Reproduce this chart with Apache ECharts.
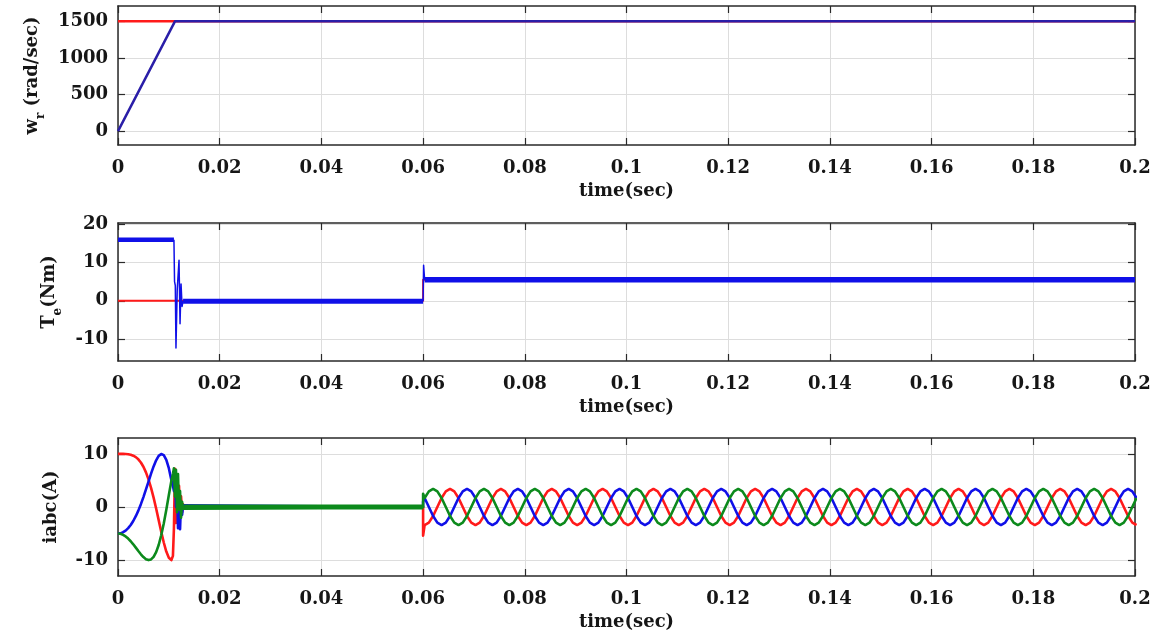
<!DOCTYPE html>
<html>
<head>
<meta charset="utf-8">
<script src="https://cdn.jsdelivr.net/npm/echarts@6/dist/echarts.min.js"></script>
<style>
  html, body { margin: 0; padding: 0; background: #ffffff; }
  #chart { width: 1164px; height: 638px; }
</style>
</head>
<body>
<div id="chart"></div>
<script>
// ---------- tick values ----------
const speedTicks = [0, 500, 1000, 1500];
const torqueTicks = [-10, 0, 10, 20];
const currentTicks = [-10, 0, 10];

// ---------- rotor speed (rad/sec) ----------
const speedRefT = [0, 0.2];
const speedRefVals = [1500, 1500];
const speedT = [0, 0.0112, 0.2];
const speedVals = [0, 1500, 1500];

// ---------- electromagnetic torque (Nm) ----------
const teRefT = [0, 0.06, 0.06, 0.2];
const teRefVals = [0, 0, 5.5, 5.5];
const teStartT = [0, 0.011];
const teStartVals = [16, 16];
const teTransT = [0.011, 0.01112, 0.01127, 0.0114, 0.01165, 0.0120, 0.0122, 0.0124, 0.0126, 0.0128];
const teTransVals = [16, 5, 4, -12.4, 3, 10.6, -6, 4.4, -1.5, 0];
const teZeroT = [0.0128, 0.06];
const teZeroVals = [-0.1, -0.1];
const teStepT = [0.06, 0.0601, 0.0603];
const teStepVals = [-0.1, 9.3, 5.5];
const teLoadT = [0.0603, 0.2];
const teLoadVals = [5.5, 5.5];

// ---------- stator currents (A) ----------
// start-up, sampled every 0.5 ms
const startT = [0, 0.0005, 0.001, 0.0015, 0.002, 0.0025, 0.003, 0.0035, 0.004, 0.0045, 0.005,
                0.0055, 0.006, 0.0065, 0.007, 0.0075, 0.008, 0.0085, 0.009, 0.0095, 0.010, 0.0105];
const iaStart = [10.00, 10.00, 10.00, 9.98, 9.94, 9.84, 9.67, 9.40, 8.98, 8.39, 7.58,
                 6.52, 5.20, 3.60, 1.76, -0.29, -2.47, -4.66, -6.69, -8.40, -9.56, -10.00];
const ibStart = [-5.00, -4.96, -4.75, -4.44, -3.98, -3.39, -2.64, -1.74, -0.68, 0.53, 1.87,
                 3.31, 4.80, 6.28, 7.65, 8.80, 9.63, 9.99, 9.78, 8.90, 7.31, 5.05];
const icStart = [-5.00, -5.04, -5.25, -5.54, -5.95, -6.45, -7.03, -7.66, -8.30, -8.91, -9.44,
                 -9.83, -10.00, -9.88, -9.40, -8.51, -7.16, -5.33, -3.09, -0.50, 2.25, 4.96];

// transient around the end of the speed ramp
const trT = [0.0108, 0.0110, 0.0112, 0.0114, 0.0116, 0.0118, 0.0120, 0.0122, 0.0124, 0.0126, 0.0128, 0.0130];
const iaTr = [-9.2, -4.0, 7.2, -3.0, 6.0, -2.5, 4.0, -2.0, 2.0, -1.0, 0.5, 0];
const ibTr = [4.0, 3.0, 6.6, 0.0, 5.0, -4.0, 3.0, -4.2, 1.0, -1.5, 0.3, 0];
const icTr = [6.2, 7.3, 2.0, 7.0, -1.0, 6.2, -0.5, 3.0, -2.0, 1.0, -0.3, 0];

// no-load interval
const holdT = [0.013, 0.06];
const holdVals = [0, 0];

// load step at 0.06 s
const stepT = 0.06;
const iaStep = -5.4;
const ibStep = 1.0;
const icStep = 2.5;

// loaded operation, sampled every 1/12 of the 10 ms period from 0.0603 s
const acStart = 0.0603;
const acStep = 0.01 / 12;
const iaAc = [
  -3.4, -2.94, -1.7, 0, 1.7, 2.94, 3.4, 2.94, 1.7, 0, -1.7, -2.94,
  -3.4, -2.94, -1.7, 0, 1.7, 2.94, 3.4, 2.94, 1.7, 0, -1.7, -2.94,
  -3.4, -2.94, -1.7, 0, 1.7, 2.94, 3.4, 2.94, 1.7, 0, -1.7, -2.94,
  -3.4, -2.94, -1.7, 0, 1.7, 2.94, 3.4, 2.94, 1.7, 0, -1.7, -2.94,
  -3.4, -2.94, -1.7, 0, 1.7, 2.94, 3.4, 2.94, 1.7, 0, -1.7, -2.94,
  -3.4, -2.94, -1.7, 0, 1.7, 2.94, 3.4, 2.94, 1.7, 0, -1.7, -2.94,
  -3.4, -2.94, -1.7, 0, 1.7, 2.94, 3.4, 2.94, 1.7, 0, -1.7, -2.94,
  -3.4, -2.94, -1.7, 0, 1.7, 2.94, 3.4, 2.94, 1.7, 0, -1.7, -2.94,
  -3.4, -2.94, -1.7, 0, 1.7, 2.94, 3.4, 2.94, 1.7, 0, -1.7, -2.94,
  -3.4, -2.94, -1.7, 0, 1.7, 2.94, 3.4, 2.94, 1.7, 0, -1.7, -2.94,
  -3.4, -2.94, -1.7, 0, 1.7, 2.94, 3.4, 2.94, 1.7, 0, -1.7, -2.94,
  -3.4, -2.94, -1.7, 0, 1.7, 2.94, 3.4, 2.94, 1.7, 0, -1.7, -2.94,
  -3.4, -2.94, -1.7, 0, 1.7, 2.94, 3.4, 2.94, 1.7, 0, -1.7, -2.94,
  -3.4, -2.94, -1.7, 0, 1.7, 2.94, 3.4, 2.94, 1.7, 0, -1.7, -2.94,
  -3.4
];
const ibAc = [
  1.7, 0, -1.7, -2.94, -3.4, -2.94, -1.7, 0, 1.7, 2.94, 3.4, 2.94,
  1.7, 0, -1.7, -2.94, -3.4, -2.94, -1.7, 0, 1.7, 2.94, 3.4, 2.94,
  1.7, 0, -1.7, -2.94, -3.4, -2.94, -1.7, 0, 1.7, 2.94, 3.4, 2.94,
  1.7, 0, -1.7, -2.94, -3.4, -2.94, -1.7, 0, 1.7, 2.94, 3.4, 2.94,
  1.7, 0, -1.7, -2.94, -3.4, -2.94, -1.7, 0, 1.7, 2.94, 3.4, 2.94,
  1.7, 0, -1.7, -2.94, -3.4, -2.94, -1.7, 0, 1.7, 2.94, 3.4, 2.94,
  1.7, 0, -1.7, -2.94, -3.4, -2.94, -1.7, 0, 1.7, 2.94, 3.4, 2.94,
  1.7, 0, -1.7, -2.94, -3.4, -2.94, -1.7, 0, 1.7, 2.94, 3.4, 2.94,
  1.7, 0, -1.7, -2.94, -3.4, -2.94, -1.7, 0, 1.7, 2.94, 3.4, 2.94,
  1.7, 0, -1.7, -2.94, -3.4, -2.94, -1.7, 0, 1.7, 2.94, 3.4, 2.94,
  1.7, 0, -1.7, -2.94, -3.4, -2.94, -1.7, 0, 1.7, 2.94, 3.4, 2.94,
  1.7, 0, -1.7, -2.94, -3.4, -2.94, -1.7, 0, 1.7, 2.94, 3.4, 2.94,
  1.7, 0, -1.7, -2.94, -3.4, -2.94, -1.7, 0, 1.7, 2.94, 3.4, 2.94,
  1.7, 0, -1.7, -2.94, -3.4, -2.94, -1.7, 0, 1.7, 2.94, 3.4, 2.94,
  1.7
];
const icAc = [
  1.7, 2.94, 3.4, 2.94, 1.7, 0, -1.7, -2.94, -3.4, -2.94, -1.7, 0,
  1.7, 2.94, 3.4, 2.94, 1.7, 0, -1.7, -2.94, -3.4, -2.94, -1.7, 0,
  1.7, 2.94, 3.4, 2.94, 1.7, 0, -1.7, -2.94, -3.4, -2.94, -1.7, 0,
  1.7, 2.94, 3.4, 2.94, 1.7, 0, -1.7, -2.94, -3.4, -2.94, -1.7, 0,
  1.7, 2.94, 3.4, 2.94, 1.7, 0, -1.7, -2.94, -3.4, -2.94, -1.7, 0,
  1.7, 2.94, 3.4, 2.94, 1.7, 0, -1.7, -2.94, -3.4, -2.94, -1.7, 0,
  1.7, 2.94, 3.4, 2.94, 1.7, 0, -1.7, -2.94, -3.4, -2.94, -1.7, 0,
  1.7, 2.94, 3.4, 2.94, 1.7, 0, -1.7, -2.94, -3.4, -2.94, -1.7, 0,
  1.7, 2.94, 3.4, 2.94, 1.7, 0, -1.7, -2.94, -3.4, -2.94, -1.7, 0,
  1.7, 2.94, 3.4, 2.94, 1.7, 0, -1.7, -2.94, -3.4, -2.94, -1.7, 0,
  1.7, 2.94, 3.4, 2.94, 1.7, 0, -1.7, -2.94, -3.4, -2.94, -1.7, 0,
  1.7, 2.94, 3.4, 2.94, 1.7, 0, -1.7, -2.94, -3.4, -2.94, -1.7, 0,
  1.7, 2.94, 3.4, 2.94, 1.7, 0, -1.7, -2.94, -3.4, -2.94, -1.7, 0,
  1.7, 2.94, 3.4, 2.94, 1.7, 0, -1.7, -2.94, -3.4, -2.94, -1.7, 0,
  1.7
];

// ---------- helpers ----------
const zip = (ts, vs) => ts.map((t, i) => [t, vs[i]]);
const acPoints = vs => vs.map((v, k) => [acStart + k * acStep, v]);
const phase = (start, tr, stepVal, ac) =>
  zip(startT, start).concat(zip(trT, tr), zip(holdT, holdVals), [[stepT, stepVal]], acPoints(ac));

const FONT = 'DejaVu Serif';
const INK = '#161616';
const FRAME = '#2a2a2a';
const GRID_LINE = '#dddddd';
const RED = '#ff1a1a';
const BLUE = '#1010e8';
const DARK_BLUE = '#2a1ea8';
const GREEN = '#0c8a1c';

const grids = [
  { left: 118, top: 6, width: 1017, height: 139 },
  { left: 118, top: 223, width: 1017, height: 138 },
  { left: 118, top: 438, width: 1017, height: 138 }
];
const yRanges = [[-190, 1710], [-15.8, 20.4], [-13, 13]];
const yTicks = [speedTicks, torqueTicks, currentTicks];
const yNames = [
  '{m|w}{s|r}{m| (rad/sec)}',
  '{m|T}{s|e}{m|(Nm)}',
  '{m|iabc(A)}'
];
const yNameGaps = [66, 54, 52];

const labelStyle = { fontFamily: FONT, fontWeight: 'bold', fontSize: 18, color: INK };
const frameLine = { show: true, onZero: false, lineStyle: { color: FRAME, width: 1.5 } };
const inTick = { show: true, inside: true, length: 7, lineStyle: { color: FRAME, width: 1.2 } };

const xAxes = [];
const yAxes = [];
grids.forEach((g, i) => {
  xAxes.push({
    type: 'value', gridIndex: i, position: 'bottom',
    min: 0, max: 0.2, interval: 0.02,
    axisLine: frameLine, axisTick: inTick,
    axisLabel: Object.assign({ margin: 14, formatter: v => String(Math.round(v * 100) / 100) }, labelStyle),
    splitLine: { show: true, lineStyle: { color: GRID_LINE, width: 1 } },
    name: 'time(sec)', nameLocation: 'middle', nameGap: 37,
    nameTextStyle: Object.assign({}, labelStyle, { fontSize: 18 })
  });
  xAxes.push({
    type: 'value', gridIndex: i, position: 'top',
    min: 0, max: 0.2, interval: 0.02,
    axisLine: frameLine, axisTick: inTick,
    axisLabel: { show: false }, splitLine: { show: false }
  });
  yAxes.push({
    type: 'value', gridIndex: i, position: 'left',
    min: yRanges[i][0], max: yRanges[i][1],
    axisLine: frameLine,
    axisTick: Object.assign({ customValues: yTicks[i] }, inTick),
    axisLabel: Object.assign({ margin: 10, customValues: yTicks[i], formatter: v => String(v) }, labelStyle),
    splitLine: { show: true, lineStyle: { color: GRID_LINE, width: 1 } },
    name: yNames[i], nameLocation: 'middle', nameGap: yNameGaps[i],
    nameTextStyle: {
      rich: {
        m: { fontFamily: FONT, fontWeight: 'bold', fontSize: 18, color: INK, lineHeight: 30 },
        s: { fontFamily: FONT, fontWeight: 'bold', fontSize: 12, color: INK, verticalAlign: 'bottom' }
      }
    }
  });
  yAxes.push({
    type: 'value', gridIndex: i, position: 'right',
    min: yRanges[i][0], max: yRanges[i][1],
    axisLine: frameLine,
    axisTick: Object.assign({ customValues: yTicks[i] }, inTick),
    axisLabel: { show: false }, splitLine: { show: false }
  });
});

const line = (xi, data, color, width, z) => ({
  type: 'line', xAxisIndex: xi * 2, yAxisIndex: xi * 2, data,
  showSymbol: false, symbol: 'none', silent: true, z: z || 2,
  lineStyle: { color, width, join: 'round' }
});

const series = [
  // speed
  line(0, zip(speedRefT, speedRefVals), RED, 2.5, 2),
  line(0, zip(speedT, speedVals), DARK_BLUE, 2.5, 3),
  // torque
  line(1, zip(teRefT, teRefVals), RED, 2, 2),
  line(1, zip(teStartT, teStartVals), BLUE, 4.5, 3),
  line(1, zip(teTransT, teTransVals), BLUE, 1.5, 3),
  line(1, zip(teZeroT, teZeroVals), BLUE, 5, 3),
  line(1, zip(teStepT, teStepVals), BLUE, 1.5, 3),
  line(1, zip(teLoadT, teLoadVals), BLUE, 5.5, 3),
  // currents
  line(2, phase(iaStart, iaTr, iaStep, iaAc), RED, 2.6, 2),
  line(2, phase(ibStart, ibTr, ibStep, ibAc), BLUE, 2.6, 3),
  line(2, phase(icStart, icTr, icStep, icAc), GREEN, 2.6, 4),
  line(2, zip(holdT, holdVals), GREEN, 5, 5)
];

const chart = echarts.init(document.getElementById('chart'), null, { renderer: 'canvas' });
chart.setOption({
  animation: false,
  backgroundColor: '#ffffff',
  grid: grids,
  xAxis: xAxes,
  yAxis: yAxes,
  series
});
</script>
</body>
</html>
